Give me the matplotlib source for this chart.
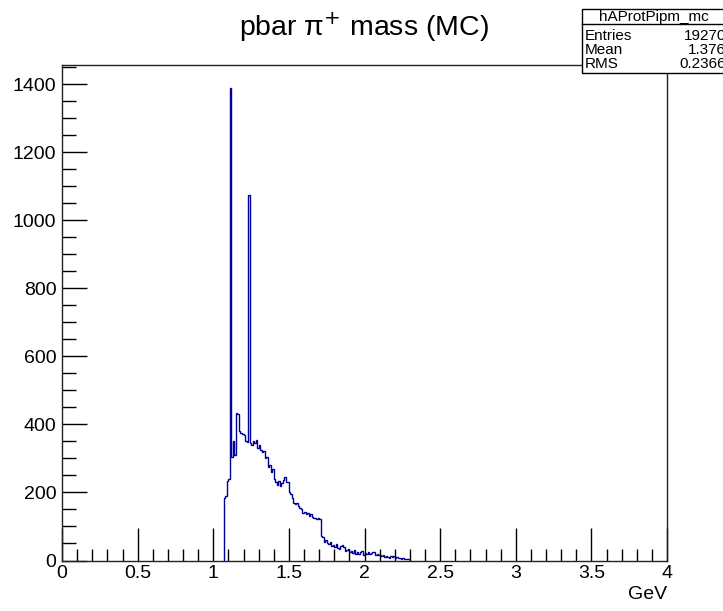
import numpy as np
import matplotlib
matplotlib.use("Agg")
import matplotlib.pyplot as plt
from matplotlib.ticker import MultipleLocator

plt.rcParams['font.family'] = ['Liberation Sans', 'DejaVu Sans']

# histogram hAProtPipm_mc, 0.01 GeV bins, first non-empty bin at 1.07 GeV
bin_lo = 1.07
bin_width = 0.01
counts = [
    185, 190, 235, 240, 1390, 305, 350, 310, 435, 430,      # 1.07 - 1.16
    380, 376, 372, 370, 350, 348, 1075, 345, 340, 352,      # 1.17 - 1.26
    345, 355, 332, 340, 325, 318, 322, 300, 305, 275,       # 1.27 - 1.36
    280, 260, 268, 240, 230, 222, 235, 218, 228, 238,       # 1.37 - 1.46
    245, 230, 232, 200, 197, 185, 168, 165, 170, 160,       # 1.47 - 1.56
    155, 150, 140, 142, 138, 140, 132, 136, 128, 125,       # 1.57 - 1.66
    124, 122, 125, 122, 72, 70, 55, 60, 52, 48,             # 1.67 - 1.76
    55, 42, 45, 40, 48, 38, 35, 42, 45, 40,                 # 1.77 - 1.86
    28, 30, 34, 25, 28, 22, 30, 20, 25, 18,                 # 1.87 - 1.96
    24, 28, 15, 22, 20, 25, 18, 22, 26, 24,                 # 1.97 - 2.06
    15, 18, 17, 16, 12, 15, 10, 14, 11, 8,                  # 2.07 - 2.16
    13, 9, 12, 7, 10, 6, 8, 5, 7, 4,                        # 2.17 - 2.26
    5, 3, 4,                                                # 2.27 - 2.29
]
edges = bin_lo + bin_width * np.arange(len(counts) + 1)

title = 'pbar \u03c0$^{+}$ mass (MC)'
hist_name = 'hAProtPipm_mc'
stat_names = ['Entries', 'Mean', 'RMS']
stat_values = ['19270', '1.376', '0.2366']

W, H = 723, 611
fig = plt.figure(figsize=(W / 100, H / 100), dpi=100)
ax = fig.add_axes([62 / W, 1 - 560.5 / H, 605 / W, 495.5 / H])

ax.stairs(counts, edges, color='#000099', lw=1.0, baseline=0)

ax.set_xlim(0, 4)
ax.set_ylim(0, 1457)
ax.xaxis.set_minor_locator(MultipleLocator(0.1))
ax.yaxis.set_major_locator(MultipleLocator(200))
ax.yaxis.set_minor_locator(MultipleLocator(50))
ax.set_xticks([0, 0.5, 1, 1.5, 2, 2.5, 3, 3.5, 4],
              ['0', '0.5', '1', '1.5', '2', '2.5', '3', '3.5', '4'])

ax.tick_params(axis='x', which='major', direction='in', length=24, width=1,
               labelsize=14, pad=3, top=False)
ax.tick_params(axis='x', which='minor', direction='in', length=9, width=1, top=False)
ax.tick_params(axis='y', which='major', direction='in', length=18, width=1,
               labelsize=14, pad=4, right=False)
ax.tick_params(axis='y', which='minor', direction='in', length=10, width=1, right=False)
for s in ax.spines.values():
    s.set_linewidth(1)
    s.set_color('#222222')

ax.set_xlabel('GeV', fontsize=14, loc='right', labelpad=3)

fig.text(364 / W, 1 - 27 / H, title, ha='center', va='center', fontsize=20.5)

# stats box
bx0, by0, by1 = 582, 9, 73
box = plt.Rectangle((bx0 / W, 1 - by1 / H), (W - bx0 + 5) / W, (by1 - by0) / H,
                    transform=fig.transFigure, facecolor='white', edgecolor='black',
                    lw=1, zorder=5)
fig.add_artist(box)
fig.add_artist(plt.Line2D([bx0 / W, 1], [1 - 24 / H, 1 - 24 / H],
                          transform=fig.transFigure, color='black', lw=1, zorder=6))
fig.text(654 / W, 1 - 16.5 / H, hist_name, ha='center', va='center', fontsize=11, zorder=7)
for i, (n, v) in enumerate(zip(stat_names, stat_values)):
    yy = 1 - (36.5 + 13.5 * i) / H
    fig.text(585 / W, yy, n, ha='left', va='center', fontsize=11, zorder=7)
    fig.text(726 / W, yy, v, ha='right', va='center', fontsize=11, zorder=7)

fig.savefig('out.png', dpi=100)
